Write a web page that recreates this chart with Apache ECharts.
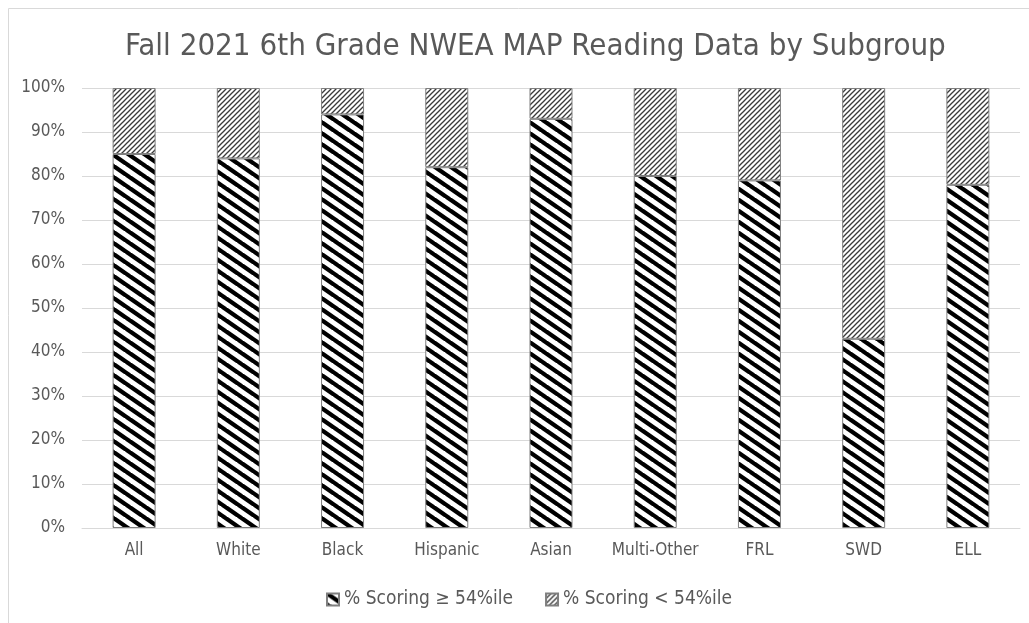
<!DOCTYPE html>
<html><head><meta charset="utf-8">
<script src="https://cdn.jsdelivr.net/npm/echarts@6/dist/echarts.min.js"></script>
<style>html,body{margin:0;padding:0;background:#fff}#c{width:1029px;height:623px}</style>
</head><body><div id="c"></div>
<script>
const title = 'Fall 2021 6th Grade NWEA MAP Reading Data by Subgroup';
const categories = ['All','White','Black','Hispanic','Asian','Multi-Other','FRL','SWD','ELL'];
const seriesNames = ['% Scoring \u2265 54%ile', '% Scoring < 54%ile'];
const atOrAbove = [85, 84, 94, 82, 93, 80, 79, 43, 78];
const below = [15, 16, 6, 18, 7, 20, 21, 57, 22];

function stripe(w, h, width, color, dir){
  const c = document.createElement('canvas');
  c.width = w; c.height = h;
  const g = c.getContext('2d');
  g.fillStyle = '#fff'; g.fillRect(0,0,w,h);
  g.strokeStyle = color; g.lineWidth = width; g.lineCap = 'square';
  for (let k=-1;k<=1;k++){
    g.beginPath();
    if (dir === 'back'){ g.moveTo(k*w, 0); g.lineTo(k*w+w, h); }
    else { g.moveTo(k*w, h); g.lineTo(k*w+w, 0); }
    g.stroke();
  }
  return c;
}
const p1 = stripe(16, 11, 4.3, '#000', 'back');
const p2 = stripe(5, 5, 1.3, '#3a3a3a', 'fwd');

const font = '"Liberation Sans Narrow","DejaVu Sans Condensed","Open Sans",sans-serif';
const chart = echarts.init(document.getElementById('c'));
chart.setOption({
  animation:false,
  title:{text:title,left:120,top:26,textStyle:{fontFamily:font,fontSize:31,fontWeight:'normal',color:'#595959'}},
  graphic:[
    {type:'line',shape:{x1:8.5,y1:8.5,x2:1029,y2:8.5},style:{stroke:'#d9d9d9',lineWidth:1}},
    {type:'line',shape:{x1:8.5,y1:8.5,x2:8.5,y2:623},style:{stroke:'#d9d9d9',lineWidth:1}}
  ],
  grid:{left:82,right:9,top:88,bottom:95},
  legend:{bottom:9,left:321,itemWidth:12,itemHeight:12,itemGap:32,
    textStyle:{fontFamily:font,fontSize:19,color:'#595959'},
    data:seriesNames.map(n=>({name:n,icon:'rect'}))},
  xAxis:{type:'category',data:categories,
    axisLine:{lineStyle:{color:'#d9d9d9'}},axisTick:{show:false},
    axisLabel:{interval:0,fontFamily:font,fontSize:17,color:'#595959',margin:14}},
  yAxis:{type:'value',min:0,max:100,interval:10,
    axisLine:{show:false},axisTick:{show:false},
    splitLine:{lineStyle:{color:'#d9d9d9'}},
    axisLabel:{fontFamily:font,fontSize:17,color:'#595959',margin:17,formatter:v=>v+'%'}},
  series:[
    {name:seriesNames[0],type:'bar',stack:'a',barWidth:43,data:atOrAbove,
      itemStyle:{color:{image:p1,repeat:'repeat'},borderColor:'#7f7f7f',borderWidth:1}},
    {name:seriesNames[1],type:'bar',stack:'a',barWidth:43,data:below,
      itemStyle:{color:{image:p2,repeat:'repeat'},borderColor:'#7f7f7f',borderWidth:1}}
  ]
});
</script></body></html>
